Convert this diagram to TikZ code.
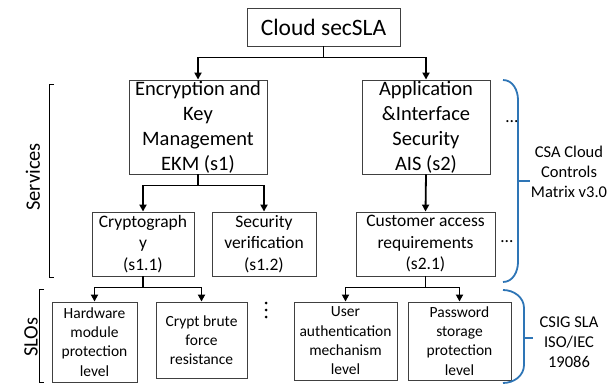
\documentclass[tikz,border=0pt]{standalone}
\usepackage{fontspec}
\setmainfont{Carlito}
\usepackage{xcolor}
\usetikzlibrary{arrows.meta}
\definecolor{braceblue}{RGB}{46,117,182}
\newcommand{\topfont}{\fontsize{23.5}{28}\selectfont}
\newcommand{\svcfont}{\fontsize{20.5}{25}\selectfont}
\newcommand{\subfont}{\fontsize{17.5}{21.5}\selectfont}
\newcommand{\slofont}{\fontsize{15.5}{19.3}\selectfont}
\newcommand{\notefont}{\fontsize{16.5}{20}\selectfont}

\begin{document}
\begin{tikzpicture}[x=1pt,y=-1pt,
    box/.style={draw=black!75,line width=0.9pt,inner sep=0pt,align=center},
    conn/.style={line width=1.8pt,-{Triangle[width=7pt,length=7pt]}},
    brace/.style={draw=braceblue,line width=1.8pt},
    bracket/.style={draw=black,line width=0.8pt}]
  \useasboundingbox (0,0) rectangle (610,385);
  % top
  \node[box,minimum width=153pt,minimum height=38pt,font=\topfont] (cloud) at (323.5,27) {Cloud secSLA};
  % services
  \node[box,minimum width=138pt,minimum height=94pt,font=\svcfont] (ekm) at (198,127) {Encryption and\\Key\\Management\\EKM (s1)};
  \node[box,minimum width=128pt,minimum height=94pt,font=\svcfont] (ais) at (426,127) {Application\\\&Interface\\Security\\AIS (s2)};
  \node[box,minimum width=102pt,minimum height=64pt,font=\subfont] (crypto) at (143,244) {Cryptograph\\y\\(s1.1)};
  \node[box,minimum width=104pt,minimum height=64pt,font=\subfont] (secver) at (264,244) {Security\\verification\\(s1.2)};
  \node[box,minimum width=139pt,minimum height=64pt,font=\subfont] (custacc) at (425.5,244) {Customer access\\requirements\\(s2.1)};
  % SLOs
  \node[box,minimum width=85pt,minimum height=80pt,font=\slofont] (hwmod) at (94.5,342) {Hardware\\module\\protection\\level};
  \node[box,minimum width=91pt,minimum height=76pt,font=\slofont] (brute) at (201.5,340) {Crypt brute\\force\\resistance};
  \node[box,minimum width=103pt,minimum height=78pt,font=\slofont] (userauth) at (345.5,341) {User\\authentication\\mechanism\\level};
  \node[box,minimum width=103pt,minimum height=78pt,font=\slofont] (pwstore) at (459.5,341) {Password\\storage\\protection\\level};
  % connectors
  \draw[conn] (cloud.south) -- ++(0,11) -| (ekm.north);
  \draw[conn] (cloud.south) -- ++(0,11) -| (ais.north);
  \draw[conn] (ekm.south) -- ++(0,11) -| (crypto.north);
  \draw[conn] (ekm.south) -- ++(0,11) -| (secver.north);
  \draw[conn] (ais.south) -- (custacc.north);
  \draw[conn] (crypto.south) -- ++(0,11) -| (hwmod.north);
  \draw[conn] (crypto.south) -- ++(0,11) -| (brute.north);
  \draw[conn] (custacc.south) -- ++(0,11) -| (userauth.north);
  \draw[conn] (custacc.south) -- ++(0,11) -| (pwstore.north);
  % dots
  \node[font=\subfont] (moresvc) at (512,122) {\ldots};
  \node[font=\subfont] (moresub) at (507,242) {\ldots};
  \foreach \y in {303,310,317}
    \fill (266,\y) circle (1.5pt);
  % brackets left
  \draw[bracket] (54,84) -- (49,84) -- (49,277) -- (54,277);
  \node[rotate=90,font=\svcfont] (svclabel) at (33,177) {Services};
  \draw[bracket] (44,289) -- (39,289) -- (39,382) -- (44,382);
  \node[rotate=90,font=\svcfont] (slolabel) at (31,337) {SLOs};
  % braces right
  \draw[brace] (503,80) to[out=0,in=90] (518,100) -- (518,262) to[out=-90,in=0] (503,282);
  \draw[brace] (518,181) -- (530,181);
  \draw[brace] (503,290) to[out=0,in=90] (524,308) -- (524,365) to[out=-90,in=0] (503,383);
  \draw[brace] (524,338) -- (533,338);
  \node[font=\notefont,align=center] (csanote) at (569,172) {CSA Cloud\\Controls\\Matrix v3.0};
  \node[font=\notefont,align=center] (csignote) at (569,342) {CSIG SLA\\ISO/IEC\\19086};
\end{tikzpicture}
\end{document}
